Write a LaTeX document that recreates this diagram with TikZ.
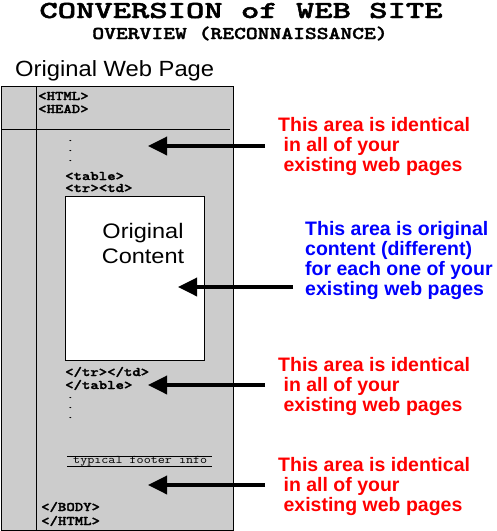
\documentclass[tikz,border=0pt]{standalone}
\usepackage{fontspec}
\setmainfont{Liberation Sans}
\newfontfamily\cbold[FakeBold=1.6]{lmmonolt10-bold.otf}
\usetikzlibrary{arrows.meta}
\definecolor{pagegray}{HTML}{CCCCCC}
\definecolor{redtxt}{HTML}{FF0000}
\definecolor{bluetxt}{HTML}{0000FF}
\newcommand{\codetxt}[1]{\scalebox{1}[0.82]{\cbold\fontsize{16}{16}\selectfont #1}}
\newcommand{\dottxt}{\scalebox{1}[0.6]{\cbold\fontsize{12}{12}\selectfont .}}
\newcommand{\wide}[2]{\scalebox{#1}[1]{#2}}
\tikzset{
  code/.style={anchor=base west, inner sep=0pt},
  note/.style={anchor=base west, inner sep=0pt, align=left},
  rednote/.style={note, text=redtxt, font=\bfseries\fontsize{19.5}{20}\selectfont},
  bluenote/.style={note, text=bluetxt, font=\bfseries\fontsize{19.5}{19.7}\selectfont},
  bigarrow/.style={line width=3.5pt, -{Triangle[length=19pt,width=18pt]}},
  rule/.style={line width=1pt},
}
\begin{document}
\begin{tikzpicture}[x=1pt,y=-1pt]
\useasboundingbox (0,0) rectangle (497,531);
% titles
\node[anchor=base, inner sep=0pt] (title) at (241,18) {\scalebox{1}[0.7]{\cbold\fontsize{34.9}{35}\selectfont CONVERSION of WEB SITE}};
\node[anchor=base, inner sep=0pt] (subtitle) at (240,39) {\scalebox{1}[0.8]{\cbold\fontsize{22.5}{23}\selectfont OVERVIEW (RECONNAISSANCE)}};
\node[anchor=base west, inner sep=0pt, font=\fontsize{22}{22}\selectfont] (pagetitle) at (15,76) {\wide{1.08}{Original Web Page}};
% page box
\draw[rule, fill=pagegray] (1,86) rectangle (233,530);
\draw[rule] (36,86) -- (36,530);
\draw[rule] (1,129) -- (230,129);
\node[draw, fill=white, line width=1pt, minimum width=139pt, minimum height=164pt, anchor=north west, inner sep=0pt] (content) at (65,196) {};
\node[anchor=base, inner sep=0pt, align=center, font=\fontsize{21}{25}\selectfont] (contenttxt) at (143,263) {\wide{1.12}{Original}\\\wide{1.12}{Content}};
% code text
\node[code] (html) at (38,100) {\codetxt{<HTML>}};
\node[code] (head) at (38,113) {\codetxt{<HEAD>}};
\node[code] (d1) at (67,141) {\dottxt};
\node[code] (d2) at (67,151) {\dottxt};
\node[code] (d3) at (67,161) {\dottxt};
\node[code] (table) at (65,180) {\codetxt{<table>}};
\node[code] (trtd) at (65,192) {\codetxt{<tr><td>}};
\node[code] (ctrtd) at (65,376) {\codetxt{</tr></td>}};
\node[code] (ctable) at (65,389) {\codetxt{</table>}};
\node[code] (d4) at (67,398) {\dottxt};
\node[code] (d5) at (67,408) {\dottxt};
\node[code] (d6) at (67,418) {\dottxt};
\node[anchor=base west, inner sep=0pt] (footer) at (73,463) {\scalebox{1}[0.85]{\ttfamily\fontsize{13.7}{14}\selectfont typical footer info}};
\draw[rule] (67,456) -- (212,456);
\draw[rule] (67,466) -- (212,466);
\node[code] (cbody) at (41,511) {\codetxt{</BODY>}};
\node[code] (chtml) at (41,525) {\codetxt{</HTML>}};
% notes (anchored at the baseline of their last line)
\node[rednote] (note1) at (278,171) {This area is identical\\\ in all of your\\\ existing web pages};
\node[bluenote] (note2) at (305,295) {This area is original\\content (different)\\for each one of your\\existing web pages};
\node[rednote] (note3) at (278,411) {This area is identical\\\ in all of your\\\ existing web pages};
\node[rednote] (note4) at (278,511) {This area is identical\\\ in all of your\\\ existing web pages};
% arrows
\coordinate (s1) at (265,146); \coordinate (t1) at (148,146);
\coordinate (s2) at (293,287); \coordinate (t2) at (178,287);
\coordinate (s3) at (265,385); \coordinate (t3) at (148,385);
\coordinate (s4) at (265,485); \coordinate (t4) at (148,485);
\draw[bigarrow] (s1) -- (t1);
\draw[bigarrow] (s2) -- (t2);
\draw[bigarrow] (s3) -- (t3);
\draw[bigarrow] (s4) -- (t4);
\end{tikzpicture}
\end{document}
